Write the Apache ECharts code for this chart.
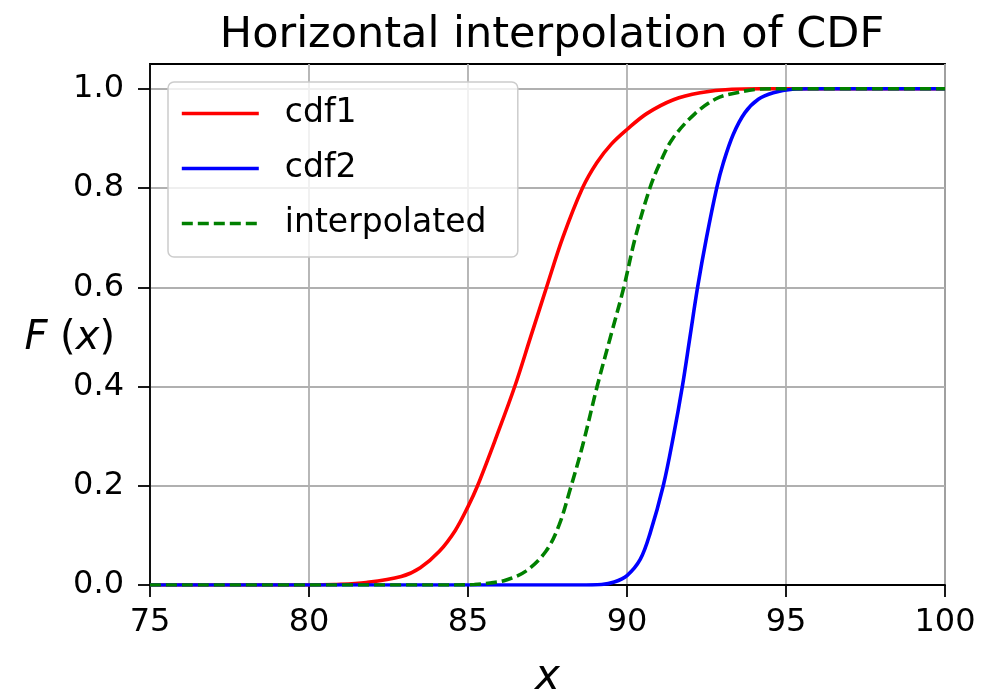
<!DOCTYPE html>
<html>
<head>
<meta charset="utf-8">
<script src="https://cdn.jsdelivr.net/npm/echarts@6/dist/echarts.min.js"></script>
<style>
  html, body { margin: 0; padding: 0; background: #fff; }
  #chart { width: 983px; height: 693px; }
</style>
</head>
<body>
<div id="chart"></div>
<script>
// Cumulative distribution curves, sampled as [x, F(x)] pairs
const cdf1Points = [
  [75, 0], [80, 0], [80.8, 0.001], [81.8, 0.005], [82.9, 0.017], [83.5, 0.035],
  [84.1, 0.068], [84.6, 0.11], [85.0, 0.158], [85.3, 0.2], [85.9, 0.3],
  [86.47, 0.4], [86.97, 0.5], [87.47, 0.6], [87.98, 0.7], [88.6, 0.8],
  [89.05, 0.851], [89.5, 0.888], [90.0, 0.918], [90.62, 0.95], [91.46, 0.978],
  [92.3, 0.992], [93.3, 0.999], [94.2, 1], [100, 1]
];
const cdf2Points = [
  [75, 0], [88.5, 0], [89.2, 0.001], [89.6, 0.006], [90.0, 0.019], [90.42, 0.052],
  [90.73, 0.105], [91.14, 0.2], [91.46, 0.3], [91.74, 0.4], [91.98, 0.5],
  [92.22, 0.6], [92.5, 0.7], [92.82, 0.8], [93.03, 0.851], [93.34, 0.908],
  [93.71, 0.952], [94.13, 0.979], [94.6, 0.992], [95.2, 0.999], [95.8, 1], [100, 1]
];
const interpolatedPoints = [
  [75, 0], [84.5, 0], [85.2, 0.001], [85.7, 0.004], [86.2, 0.01], [86.82, 0.028],
  [87.45, 0.068], [87.86, 0.12], [88.2, 0.19], [88.6, 0.28], [89.06, 0.4],
  [89.48, 0.5], [89.9, 0.6], [90.26, 0.7], [90.72, 0.8], [91.04, 0.851],
  [91.44, 0.9], [92.14, 0.95], [92.8, 0.98], [93.3, 0.99], [94.08, 0.999],
  [94.6, 1], [100, 1]
];

const seriesNames = ['cdf1', 'cdf2', 'interpolated'];
const titleText = 'Horizontal interpolation of CDF';
const xLabel = 'x';
const yLabel = '{i|F} ({i|x})';
const xRange = [75, 100, 5];
const yRange = [0, 1.05, 0.2];
const yTicks = [0, 0.2, 0.4, 0.6, 0.8, 1.0];

const FONT = 'DejaVu Sans';
const chart = echarts.init(document.getElementById('chart'), null, { renderer: 'canvas' });

const lineSeries = (name, data, color, type) => ({
  name: name,
  type: 'line',
  data: data,
  smooth: 0.35,
  symbol: 'none',
  showSymbol: false,
  lineStyle: { color: color, width: 3.6, type: type, cap: 'butt' },
  itemStyle: { color: color }
});

chart.setOption({
  animation: false,
  backgroundColor: '#fff',
  title: {
    text: titleText,
    left: 547, textAlign: 'center', top: 9,
    textStyle: { fontFamily: FONT, fontSize: 43, fontWeight: 'normal', color: '#000' }
  },
  grid: {
    left: 150, right: 38, top: 64, bottom: 108,
    outerBoundsMode: 'none', containLabel: false,
    show: true, borderColor: '#000', borderWidth: 1.8, backgroundColor: 'transparent'
  },
  legend: {
    orient: 'vertical',
    left: 168, top: 82,
    data: seriesNames,
    itemWidth: 77, itemHeight: 20, itemGap: 22,
    padding: [15, 15, 17, 12],
    backgroundColor: 'rgba(255,255,255,0.8)',
    borderColor: '#cccccc', borderWidth: 1.5, borderRadius: 6,
    itemStyle: { opacity: 0, borderWidth: 0 },
    lineStyle: { width: 3.6 },
    textStyle: { fontFamily: FONT, fontSize: 33, color: '#000', lineHeight: 30,
      width: 218, padding: [0, 0, 0, 21] }
  },
  xAxis: {
    type: 'value',
    min: xRange[0], max: xRange[1], interval: xRange[2],
    name: xLabel, nameLocation: 'middle', nameGap: 72, nameMoveOverlap: false,
    nameTextStyle: { fontFamily: FONT, fontSize: 42, fontStyle: 'italic', color: '#000' },
    axisLine: { show: true, onZero: false, lineStyle: { color: '#000', width: 1.8 } },
    axisTick: { show: true, inside: false, length: 12, lineStyle: { color: '#000', width: 1.8 } },
    axisLabel: { fontFamily: FONT, fontSize: 32, color: '#000', margin: 22 },
    splitLine: { show: true, lineStyle: { color: '#b0b0b0', width: 1.8 } }
  },
  yAxis: {
    type: 'value',
    min: yRange[0], max: yRange[1], interval: yRange[2],
    name: yLabel, nameLocation: 'middle', nameGap: 35, nameRotate: 0, nameMoveOverlap: false,
    nameTextStyle: { fontFamily: FONT, fontSize: 40, color: '#000', align: 'right',
      verticalAlign: 'middle', padding: [28, 0, 0, 0],
      rich: { i: { fontFamily: FONT, fontSize: 40, fontStyle: 'italic', color: '#000' } } },
    axisLine: { show: true, lineStyle: { color: '#000', width: 1.8 } },
    axisTick: { show: true, inside: false, length: 12, customValues: yTicks,
      lineStyle: { color: '#000', width: 1.8 } },
    axisLabel: { fontFamily: FONT, fontSize: 32, color: '#000', margin: 26, customValues: yTicks,
      formatter: v => v.toFixed(1) },
    splitLine: { show: true, lineStyle: { color: '#b0b0b0', width: 1.8 } }
  },
  series: [
    lineSeries(seriesNames[0], cdf1Points, '#ff0000', 'solid'),
    lineSeries(seriesNames[1], cdf2Points, '#0000ff', 'solid'),
    lineSeries(seriesNames[2], interpolatedPoints, '#008000', [11, 5])
  ]
});
</script>
</body>
</html>
